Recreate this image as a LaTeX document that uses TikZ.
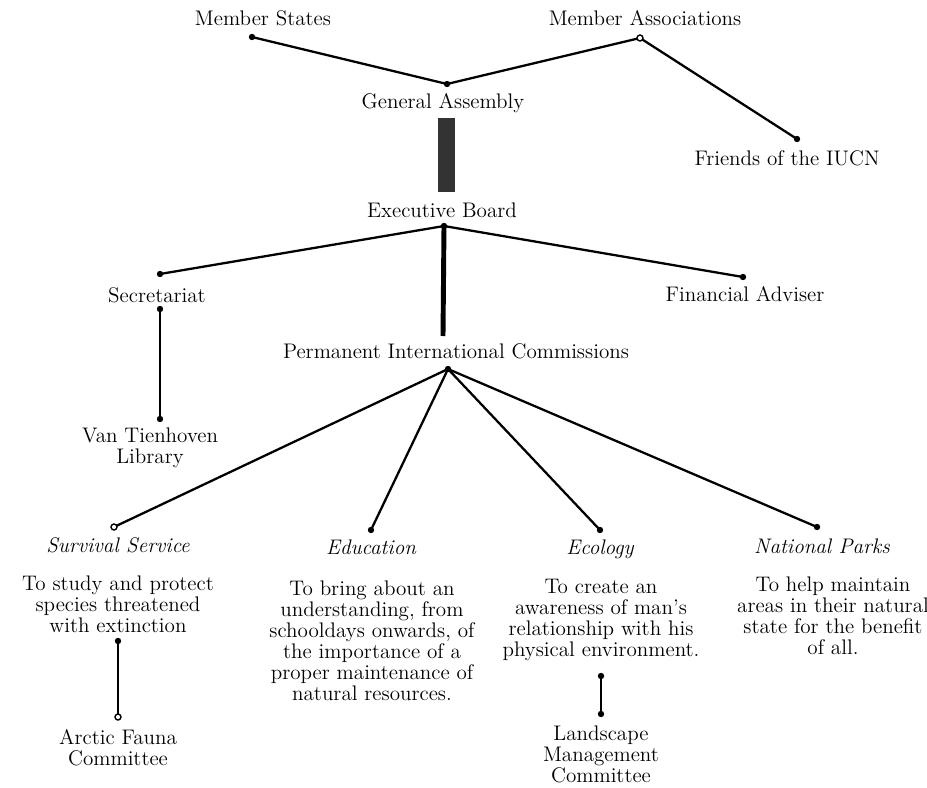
\documentclass[tikz,border=0pt]{standalone}
\usepackage{tikz}
\usetikzlibrary{calc}

\begin{document}
\begin{tikzpicture}[x=0.02cm, y=-0.02cm,
		lbl/.style={font=\fontsize{12}{12}\selectfont, align=center, inner sep=0pt},
		ital/.style={lbl, font=\fontsize{12}{12}\selectfont\itshape},
		link/.style={line width=1.3pt},
		heavy/.style={line width=2.8pt}]
				\useasboundingbox (0,0) rectangle (927,788);
				% end points of the connectors
				\coordinate (statesD) at (252,37);
				\coordinate (assocD) at (640,38);
				\coordinate (assemblyD) at (447,84);
				\coordinate (friendsD) at (797,139);
				\coordinate (boardD) at (444,226);
				\coordinate (secrD) at (160,274);
				\coordinate (financeD) at (743,277);
				\coordinate (permTop) at (443,336);
				\coordinate (permD) at (448,369);
				\coordinate (secrB) at (160,309);
				\coordinate (libraryD) at (160,419);
				\coordinate (survivalD) at (114,527);
				\coordinate (educD) at (371,530);
				\coordinate (ecolD) at (600,530);
				\coordinate (parksD) at (817,527);
				\coordinate (survB) at (118,641);
				\coordinate (arcticD) at (118,717);
				\coordinate (ecolB) at (601,676);
				\coordinate (landD) at (601,714);
				% labels
				\node[lbl] (states) at (263,18) {Member States};
				\node[lbl] (assoc) at (645,18) {Member Associations};
				\node[lbl] (assembly) at (443,103) {General Assembly};
				\node[lbl] (friends) at (787,158) {Friends of the IUCN};
				\node[lbl] (board) at (442,210) {Executive Board};
				\node[lbl] (secr) at (157,295) {Secretariat};
				\node[lbl] (finance) at (745,294) {Financial Adviser};
				\node[lbl] (perm) at (456,351) {Permanent International Commissions};
				\node[lbl] (library) at (150,448) {Van Tienhoven\\Library};
				\node[ital] (survival) at (118,545) {Survival Service};
				\node[ital] (educ) at (371,547) {Education};
				\node[ital] (ecol) at (600,549) {Ecology};
				\node[ital] (parks) at (822,546) {National Parks};
				\node[lbl] (survText) at (118,604) {To study and protect\\species threatened\\with extinction};
				\node[lbl] (educText) at (372,641) {To bring about an\\understanding, from\\schooldays onwards, of\\the importance of a\\proper maintenance of\\natural resources.};
				\node[lbl] (ecolText) at (601,620) {To create an\\awareness of man's\\relationship with his\\physical environment.};
				\node[lbl] (parksText) at (833,616) {To help maintain\\areas in their natural\\state for the benefit\\of all.};
				\node[lbl] (arctic) at (118,748) {Arctic Fauna\\Committee};
				\node[lbl] (landscape) at (601,754) {Landscape\\Management\\Committee};
				% connectors
				\draw[link] (statesD) -- (assemblyD) -- (assocD) -- (friendsD);
				\fill[black!80] (438,118) rectangle (455,192);
				\draw[link] (secrD) -- (boardD) -- (financeD);
				\draw[heavy] (boardD) -- (permTop);
				\draw[link] (secrB) -- (libraryD);
				\draw[link] (survivalD) -- (permD) -- (parksD);
				\draw[link] (educD) -- (permD) -- (ecolD);
				\draw[link] (survB) -- (arcticD);
				\draw[link] (ecolB) -- (landD);
				\foreach \p in {statesD,assemblyD,friendsD,boardD,secrD,financeD,permD,secrB,libraryD,educD,ecolD,parksD,survB,ecolB,landD}
					\fill (\p) circle (3.2);
				\foreach \p in {assocD,survivalD,arcticD}
					\filldraw[fill=white, line width=0.8pt] (\p) circle (3);
			\end{tikzpicture}
\end{document}
